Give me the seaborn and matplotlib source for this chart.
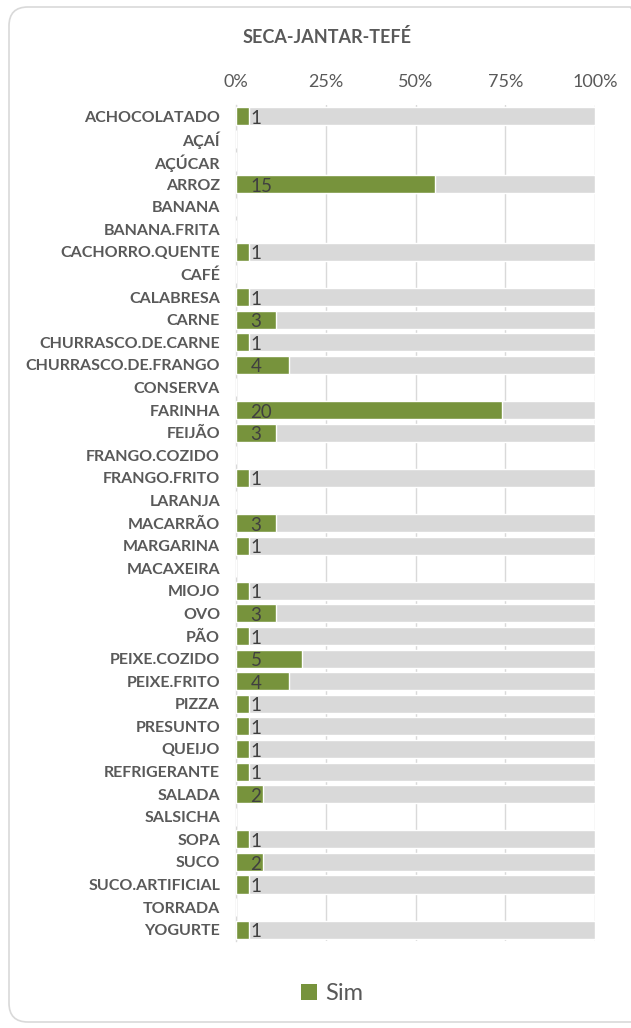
import matplotlib
matplotlib.use("Agg")
import matplotlib.pyplot as plt
import seaborn as sns
import pandas as pd
import numpy as np
from matplotlib.patches import FancyBboxPatch, Patch
from matplotlib.ticker import PercentFormatter

categories = ["ACHOCOLATADO", "AÇAÍ", "AÇÚCAR", "ARROZ", "BANANA", "BANANA.FRITA",
              "CACHORRO.QUENTE", "CAFÉ", "CALABRESA", "CARNE", "CHURRASCO.DE.CARNE",
              "CHURRASCO.DE.FRANGO", "CONSERVA", "FARINHA", "FEIJÃO", "FRANGO.COZIDO",
              "FRANGO.FRITO", "LARANJA", "MACARRÃO", "MARGARINA", "MACAXEIRA", "MIOJO",
              "OVO", "PÃO", "PEIXE.COZIDO", "PEIXE.FRITO", "PIZZA", "PRESUNTO", "QUEIJO",
              "REFRIGERANTE", "SALADA", "SALSICHA", "SOPA", "SUCO", "SUCO.ARTIFICIAL",
              "TORRADA", "YOGURTE"]
sim = [1, 0, 0, 15, 0, 0, 1, 0, 1, 3, 1, 4, 0, 20, 3, 0, 1, 0, 3, 1, 0, 1,
       3, 1, 5, 4, 1, 1, 1, 1, 2, 0, 1, 2, 1, 0, 1]
nao = [26, 0, 0, 12, 0, 0, 26, 0, 26, 24, 26, 23, 0, 7, 24, 0, 26, 0, 24, 26, 0, 26,
       24, 26, 22, 23, 26, 26, 26, 26, 25, 0, 26, 25, 26, 0, 26]
ticks = [0, 0.25, 0.5, 0.75, 1.0]

df = pd.DataFrame({"cat": categories, "sim": sim, "nao": nao})
tot = df["sim"] + df["nao"]
df["sim_pct"] = np.where(tot > 0, df["sim"] / tot.replace(0, 1), 0)
df["tot_pct"] = np.where(tot > 0, 1.0, 0)

sns.set_theme(style="white")
FONT = ["Lato", "DejaVu Sans"]
plt.rcParams["font.family"] = FONT
TXT = "#595959"

fig = plt.figure(figsize=(6.31, 10.28), dpi=100)
ax = fig.add_axes([236/631, 1-941/1028, (595-236)/631, (941-105)/1028])

sns.barplot(data=df, y="cat", x="tot_pct", color="#D9D9D9", width=0.8,
            orient="h", ax=ax, saturation=1, zorder=2)
sns.barplot(data=df, y="cat", x="sim_pct", color="#77933C", width=0.8,
            orient="h", ax=ax, saturation=1, zorder=3)

for i, v in enumerate(sim):
    if v > 0:
        ax.annotate(str(v), xy=(0, i), xytext=(10.5, -1.5), textcoords="offset points",
                    ha="left", va="center", fontsize=13.5, color="#404040", zorder=4)

ax.set_xlim(0, 1)
ax.set_xticks(ticks)
ax.xaxis.set_major_formatter(PercentFormatter(1.0, decimals=0))
ax.xaxis.tick_top()
ax.tick_params(axis="x", length=0, labelsize=13, labelcolor=TXT, pad=11)
ax.tick_params(axis="y", length=0, labelsize=11.5, labelcolor=TXT, pad=11.5)
for lab in ax.get_yticklabels():
    lab.set_fontweight("bold")
ax.set_xlabel("")
ax.set_ylabel("")
ax.grid(axis="x", color="#D9D9D9", linewidth=1, zorder=0)
ax.set_axisbelow(True)
for s in ["top", "right", "bottom"]:
    ax.spines[s].set_visible(False)
ax.spines["left"].set_color("#D9D9D9")
ax.spines["left"].set_linewidth(1)

fig.text(327/631, 1-37/1028, "SECA-JANTAR-TEFÉ", ha="center", va="center",
         fontsize=13, fontweight="bold", color=TXT)

handles = [Patch(facecolor="#77933C", edgecolor="none", label="Sim")]
fig.legend(handles=handles, loc="center", bbox_to_anchor=(332/631, 1-994/1028),
           frameon=False, fontsize=17, handlelength=0.65, handleheight=0.65,
           handletextpad=0.35, labelcolor=TXT)

border = FancyBboxPatch((9/631, 6/1028), 640/631, 1015/1028,
                        boxstyle="round,pad=0,rounding_size=0.03",
                        transform=fig.transFigure, facecolor="none",
                        edgecolor="#D9D9D9", linewidth=1.2, mutation_aspect=631/1028)
fig.patches.append(border)

fig.savefig("out.png", dpi=100)
